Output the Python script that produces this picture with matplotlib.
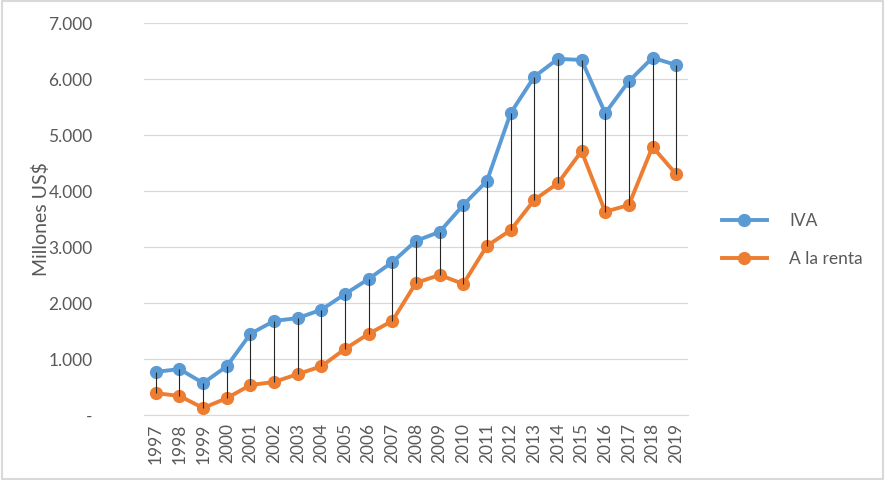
import numpy as np
import matplotlib.pyplot as plt
from matplotlib.ticker import FuncFormatter

# data (millones US$)
years = list(range(1997, 2020))
iva = [770, 820, 570, 870, 1450, 1680, 1730, 1880, 2160, 2430, 2730, 3110, 3270,
       3750, 4180, 5390, 6040, 6360, 6340, 5390, 5960, 6380, 6250]
renta = [390, 340, 125, 300, 535, 590, 730, 870, 1180, 1450, 1680, 2360, 2500,
         2340, 3020, 3300, 3840, 4140, 4710, 3630, 3750, 4790, 4300]
yticks = [0, 1000, 2000, 3000, 4000, 5000, 6000, 7000]

plt.rcParams['font.family'] = ['Lato', 'DejaVu Sans']
txt = '#595959'

fig = plt.figure(figsize=(8.85, 4.8), dpi=100)
ax = fig.add_axes([144/885, 1-415/480, 544/885, (415-23)/480])

x = np.arange(len(years))
ax.vlines(x, renta, iva, color='#262626', lw=0.8, zorder=3)
ax.plot(x, iva, color='#5B9BD5', lw=2.8, marker='o', ms=8.5, label='IVA', zorder=2)
ax.plot(x, renta, color='#ED7D31', lw=2.8, marker='o', ms=8.5, label='A la renta', zorder=2)

ax.set_xlim(-0.5, len(years) - 0.5)
ax.set_ylim(0, 7000)
ax.set_yticks(yticks)
ax.yaxis.set_major_formatter(FuncFormatter(
    lambda v, p: '-' if v == 0 else f'{int(v):,}'.replace(',', '.')))
ax.set_xticks(x)
ax.set_xticklabels([str(y) for y in years], rotation=90)
ax.grid(axis='y', color='#D9D9D9', lw=0.9)
ax.set_axisbelow(True)
for s in ['top', 'right', 'left']:
    ax.spines[s].set_visible(False)
ax.spines['bottom'].set_color('#D9D9D9')
ax.tick_params(axis='both', length=0, labelsize=12.5, colors=txt)
ax.tick_params(axis='y', pad=37)
ax.tick_params(axis='x', pad=6)
ax.set_ylabel('Millones US$', fontsize=14, color=txt)
ax.yaxis.set_label_coords(-0.172, 0.5)

leg = fig.legend(loc='center left', bbox_to_anchor=(706/885, 1-240/480), frameon=False,
                 fontsize=12.5, handlelength=2.6, labelspacing=1.3, handletextpad=1.3)
for t in leg.get_texts():
    t.set_color(txt)

# light grey border round the figure
fig.patches.append(plt.Rectangle((0.002, 0.003), 0.996, 0.994, transform=fig.transFigure,
                                 fill=False, edgecolor='#D9D9D9', lw=1.5))

fig.savefig('out.png', dpi=100)
